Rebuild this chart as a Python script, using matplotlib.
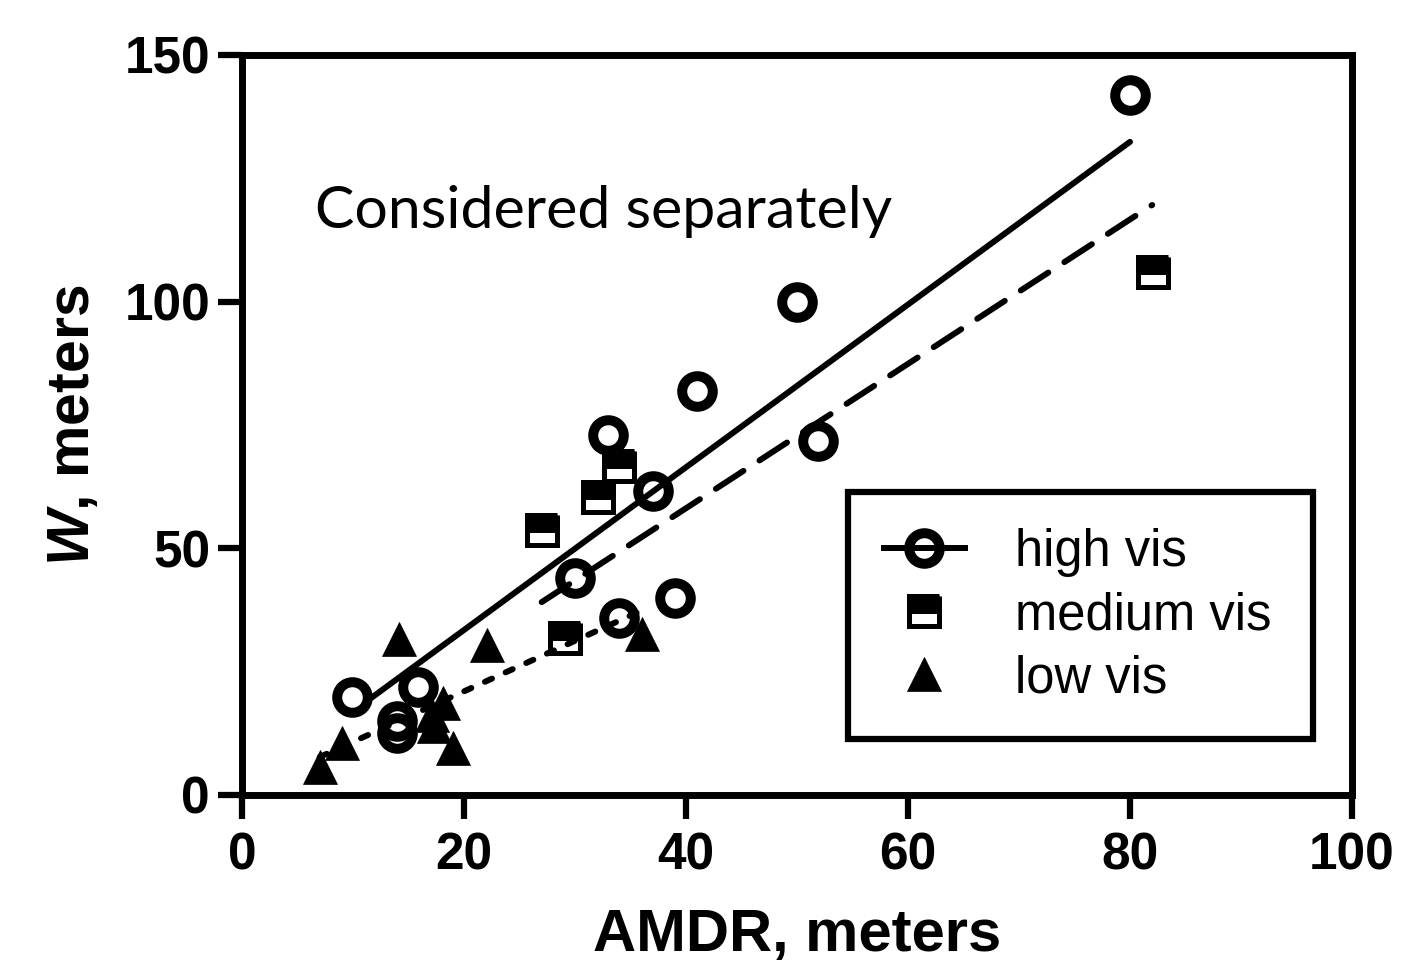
import matplotlib
matplotlib.use("Agg")
import matplotlib.pyplot as plt
from matplotlib.lines import Line2D

plt.rcParams['font.family'] = ['Liberation Sans', 'DejaVu Sans']
plt.rcParams['mathtext.fontset'] = 'custom'
plt.rcParams['mathtext.it'] = 'Liberation Sans:italic:bold'
plt.rcParams['mathtext.rm'] = 'Liberation Sans:bold'

# ---- data ----
high_x = [80.0, 50.0, 41.0, 51.9, 33.0, 37.0, 30.0, 39.0, 34.0, 15.9, 9.9, 14.0, 14.0]
high_y = [141.9, 99.9, 81.9, 71.7, 72.9, 61.7, 43.9, 39.9, 35.9, 21.9, 19.9, 15.0, 12.6]

med_x = [82.1, 34.0, 32.1, 27.0, 29.1]
med_y = [106.0, 66.7, 60.4, 53.7, 31.8]

low_x = [14.1, 22.1, 36.0, 18.1, 17.1, 17.3, 19.0, 9.0, 7.0]
low_y = [31.6, 30.5, 32.6, 18.7, 16.2, 13.9, 9.6, 10.6, 5.6]

# fitted lines (endpoints)
fit_high_x = [11.6, 80.0]
fit_high_y = [19.6, 132.4]
fit_med_x = [27.0, 82.0]
fit_med_y = [39.1, 119.6]
fit_low_x = [7.0, 36.0]
fit_low_y = [7.7, 37.4]

x_ticks = [0, 20, 40, 60, 80, 100]
y_ticks = [0, 50, 100, 150]

series_labels = ["high vis", "medium vis", "low vis"]
annotation = "Considered separately"

# ---- figure ----
fig = plt.figure(figsize=(14.06, 9.66), dpi=100)
ax = fig.add_axes([242 / 1406, 171 / 966, 1110 / 1406, 740 / 966])

lw_line = 4.3
ax.plot(fit_high_x, fit_high_y, color='black', lw=lw_line, solid_capstyle='round', zorder=2)
ax.plot(fit_med_x, fit_med_y, color='black', lw=lw_line, linestyle=(0, (5.5, 3.2)),
        dash_capstyle='round', zorder=2)
ax.plot(fit_low_x, fit_low_y, color='black', lw=lw_line, linestyle=(0, (1.3, 2.5)),
        dash_capstyle='round', zorder=2)

circ_kw = dict(marker='o', ms=22, mew=7.2, mfc='none', mec='black', ls='none')
sq_kw = dict(marker='s', ms=21, mew=3.6, mfc='black', mfcalt='none', fillstyle='top',
             mec='black', ls='none')
tri_kw = dict(marker='^', ms=24, mew=0.5, mfc='black', mec='black', ls='none')

ax.plot(high_x, high_y, zorder=3, **circ_kw)
ax.plot(med_x, med_y, zorder=3, **sq_kw)
ax.plot(low_x, low_y, zorder=3, **tri_kw)

ax.set_xlim(0, 100)
ax.set_ylim(0, 150)
ax.set_xticks(x_ticks)
ax.set_yticks(y_ticks)
for s in ax.spines.values():
    s.set_linewidth(5)
ax.tick_params(direction='out', length=17, width=4.5, labelsize=37)
ax.tick_params(axis='x', pad=9)
ax.tick_params(axis='y', pad=6)
for lab in ax.get_xticklabels() + ax.get_yticklabels():
    lab.set_fontweight('bold')

ax.set_xlabel('AMDR, meters', fontsize=43, fontweight='bold', labelpad=20)
ax.set_ylabel(r'$W$, meters', fontsize=42.5, fontweight='bold', labelpad=17)

ax.text(6.6, 115, annotation, fontsize=42.5, family=['Lato', 'DejaVu Sans'],
        ha='left', va='baseline')

handles = [
    Line2D([], [], color='black', lw=lw_line, marker='o', ms=22, mew=7.2, mfc='none', mec='black'),
    Line2D([], [], **sq_kw),
    Line2D([], [], **tri_kw),
]
leg = ax.legend(handles, series_labels, loc='upper left',
                bbox_to_anchor=(0.546, 0.409, 0.419, 0.0), mode='expand',
                fontsize=36.5, frameon=True, fancybox=False, edgecolor='black',
                borderpad=0.7, labelspacing=0.28, handlelength=1.6,
                handletextpad=1.0, borderaxespad=0)
leg.get_frame().set_linewidth(4.5)
leg.get_frame().set_alpha(1)

fig.savefig('out.png', dpi=100)
